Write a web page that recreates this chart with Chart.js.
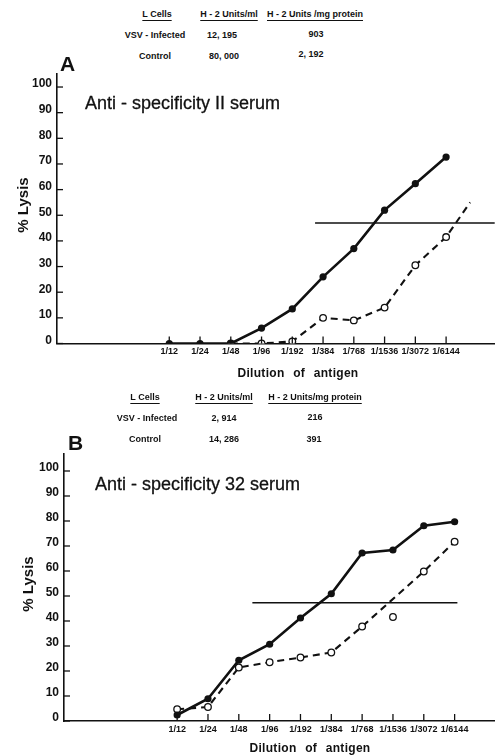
<!DOCTYPE html>
<html>
<head>
<meta charset="utf-8">
<script src="https://cdn.jsdelivr.net/npm/chart.js@4"></script>
<style>
  html, body { margin: 0; padding: 0; background: #fff; }
  body { width: 500px; height: 755px; position: relative; overflow: hidden;
         font-family: "Liberation Sans", Arial, sans-serif; color: #111; }
  canvas { position: absolute; left: 0; }
  .t { position: absolute; transform: translate(-50%, -50%); white-space: nowrap; z-index: 2; }
  .tb { font-size: 9px; font-weight: bold; }
  .hd { text-decoration: underline; text-underline-offset: 3px; }
  .ttl { position: absolute; font-size: 18px; white-space: nowrap; z-index: 2; -webkit-text-stroke: 0.3px #111; }
  .pan { position: absolute; font-size: 21px; font-weight: bold; z-index: 2; }
  .ylab { font-size: 15px; font-weight: bold; transform: translate(-50%, -50%) rotate(-90deg); }
  .xlab { font-size: 12px; font-weight: bold; word-spacing: 5px; letter-spacing: 0.3px; }
</style>
</head>
<body>
<canvas id="chartA" width="500" height="320" style="top:62px"></canvas>
<canvas id="chartB" width="500" height="315" style="top:440px"></canvas>

<!-- Tabel A -->
<div class="t tb hd" style="left:157px;top:14px">L Cells</div>
<div class="t tb hd" style="left:229px;top:14px">H - 2 Units/ml</div>
<div class="t tb hd" style="left:315px;top:14px">H - 2 Units /mg protein</div>
<div class="t tb" style="left:155px;top:35px">VSV - Infected</div>
<div class="t tb" style="left:222px;top:35px">12, 195</div>
<div class="t tb" style="left:316px;top:34px">903</div>
<div class="t tb" style="left:224px;top:56px">80, 000</div>
<div class="t tb" style="left:155px;top:56px">Control</div>
<div class="t tb" style="left:311px;top:54px">2, 192</div>

<div class="pan" style="left:60px;top:52px">A</div>
<div class="ttl" style="left:85px;top:93px">Anti - specificity II serum</div>
<div class="t ylab" style="left:22px;top:205px">% Lysis</div>
<div class="t xlab" style="left:298px;top:373px">Dilution of antigen</div>

<!-- Tabel B -->
<div class="t tb hd" style="left:145px;top:397px">L Cells</div>
<div class="t tb hd" style="left:224px;top:397px">H - 2 Units/ml</div>
<div class="t tb hd" style="left:315px;top:397px">H - 2 Units/mg protein</div>
<div class="t tb" style="left:147px;top:418px">VSV - Infected</div>
<div class="t tb" style="left:224px;top:418px">2, 914</div>
<div class="t tb" style="left:315px;top:417px">216</div>
<div class="t tb" style="left:145px;top:439px">Control</div>
<div class="t tb" style="left:224px;top:439px">14, 286</div>
<div class="t tb" style="left:314px;top:439px">391</div>

<div class="pan" style="left:68px;top:431px">B</div>
<div class="ttl" style="left:95px;top:474px">Anti - specificity 32 serum</div>
<div class="t ylab" style="left:27px;top:584px">% Lysis</div>
<div class="t xlab" style="left:310px;top:748px">Dilution of antigen</div>

<script>
// verdunningen op de x-as
const dilutions = ["1/12", "1/24", "1/48", "1/96", "1/192", "1/384", "1/768", "1/1536", "1/3072", "1/6144"];
const yTicks = [0, 10, 20, 30, 40, 50, 60, 70, 80, 90, 100];

// Paneel A (% lysis per verdunning)
const filledA = [0, 0, 0, 6, 13.5, 26, 37, 52, 62.3, 72.7];
const openA = [null, null, 0, 0, 0.8, 10, 9, 14, 30.5, 41.5];
const openA_ext = { x: 9.78, y: 55 };       // gestippelde lijn loopt door voorbij 1/6144
const refLineA = { from: 4.74, to: 10.6, y: 47 };

// Paneel B
const filledB = [2.4, 8.9, 24.3, 30.7, 41.2, 50.9, 67.2, 68.4, 78.1, 79.7];
const openB = [4.7, 5.6, 21.4, 23.5, 25.4, 27.4, 37.8, null, 59.8, 71.7];
const openB_outlier = { x: 7, y: 41.6 };   // losse meting 1/1536, niet op de lijn
const refLineB = { from: 2.44, to: 9.09, y: 47.3 };

const FONT = "'Liberation Sans', Arial, sans-serif";
Chart.defaults.font.family = FONT;
Chart.defaults.color = "#111";

const toXY = arr => arr.map((v, i) => v == null ? { x: i, y: null } : { x: i, y: v });

// tick-streepjes naar binnen toe, zoals in de figuur
const innerTicks = {
  id: "innerTicks",
  afterDraw(chart) {
    const c = chart.ctx, a = chart.chartArea;
    c.save();
    c.strokeStyle = "#111";
    c.lineWidth = 1.3;
    chart.scales.x.ticks.forEach(t => {
      const px = chart.scales.x.getPixelForValue(t.value);
      c.beginPath(); c.moveTo(px, a.bottom); c.lineTo(px, a.bottom - 7); c.stroke();
    });
    chart.scales.y.ticks.forEach(t => {
      const py = chart.scales.y.getPixelForValue(t.value);
      c.beginPath(); c.moveTo(a.left, py); c.lineTo(a.left + 6, py); c.stroke();
    });
    c.restore();
  }
};

function makePanel(id, cfg) {
  const solid = {
    data: toXY(cfg.filled),
    borderColor: "#111", backgroundColor: "#111",
    borderWidth: 2.6, pointRadius: 3.6, pointBorderWidth: 0,
    pointBackgroundColor: "#111", showLine: true
  };
  const openPts = toXY(cfg.open);
  const radii = openPts.map(() => 3.3);
  if (cfg.ext) { openPts.push(cfg.ext); radii.push(0); }
  const dashed = {
    data: openPts,
    borderColor: "#111", borderWidth: 2.1, borderDash: [7, 5],
    pointRadius: radii, pointBorderWidth: 1.3,
    pointBackgroundColor: "#fff", pointBorderColor: "#111",
    showLine: true, spanGaps: true
  };
  const ref = {
    data: [{ x: cfg.ref.from, y: cfg.ref.y }, { x: cfg.ref.to, y: cfg.ref.y }],
    borderColor: "#111", borderWidth: 1.4, pointRadius: 0, showLine: true
  };
  const datasets = [solid, dashed, ref];
  if (cfg.outlier) {
    datasets.push({
      data: [cfg.outlier], showLine: false, pointRadius: 3.3, pointBorderWidth: 1.3,
      pointBackgroundColor: "#fff", pointBorderColor: "#111"
    });
  }

  new Chart(document.getElementById(id), {
    type: "scatter",
    data: { datasets },
    plugins: [innerTicks],
    options: {
      responsive: false,
      animation: false,
      layout: { padding: { top: cfg.padTop, right: cfg.padRight, left: 0, bottom: 0 } },
      plugins: { legend: { display: false }, tooltip: { enabled: false } },
      scales: {
        x: {
          type: "linear", min: cfg.xMin, max: cfg.xMax,
          afterBuildTicks: s => { s.ticks = dilutions.map((d, i) => ({ value: i })); },
          afterFit: s => { s.height = cfg.xH; },
          grid: { display: false, drawTicks: false, tickLength: 0 },
          border: { display: true, color: "#111", width: 1.6 },
          ticks: {
            padding: 3, maxRotation: 0, autoSkip: false,
            font: { size: 9, weight: "bold" },
            callback: v => dilutions[v]
          }
        },
        y: {
          min: 0, max: cfg.yMax,
          afterBuildTicks: s => { s.ticks = yTicks.map(v => ({ value: v })); },
          afterFit: s => { s.width = cfg.yW; },
          grid: { display: false, drawTicks: false, tickLength: 0 },
          border: { display: true, color: "#111", width: 1.6 },
          ticks: { padding: 5, labelOffset: -3, font: { size: 12, weight: "bold" } }
        }
      }
    }
  });
}

makePanel("chartA", {
  filled: filledA, open: openA, ext: openA_ext, ref: refLineA,
  xMin: -3.65, xMax: 10.58, yMax: 105,
  padTop: 11.6, padRight: 2, xH: 38.5, yW: 57
});

makePanel("chartB", {
  filled: filledB, open: openB, outlier: openB_outlier, ref: refLineB,
  xMin: -3.67, xMax: 10.3, yMax: 107,
  padTop: 13.5, padRight: 5, xH: 34, yW: 64
});
</script>
</body>
</html>
